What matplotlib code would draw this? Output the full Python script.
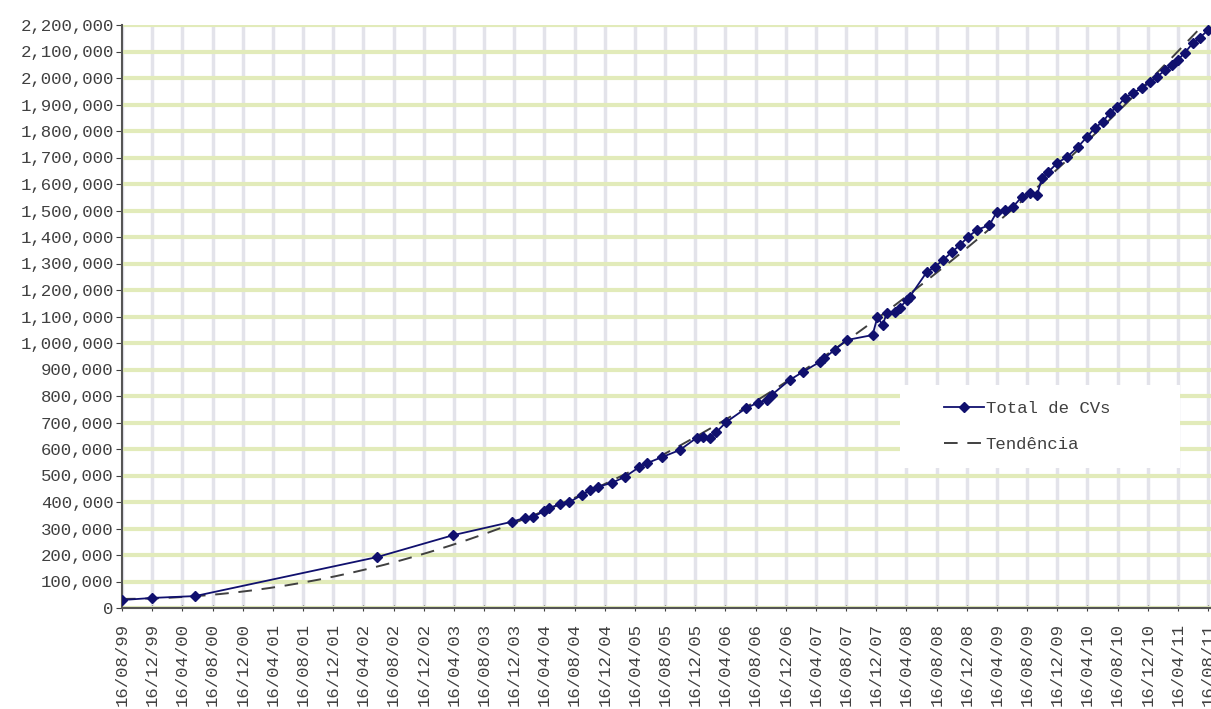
import numpy as np
import matplotlib.pyplot as plt
import matplotlib.dates as mdates
import matplotlib.ticker as mticker
from matplotlib.patches import Rectangle

# Total de CVs ao longo do tempo
dates = [
    "1999-08-16", "1999-12-16", "2000-06-06", "2002-06-10", "2003-04-14",
    "2003-12-05", "2004-01-27", "2004-02-28", "2004-04-16", "2004-05-06",
    "2004-06-16", "2004-07-26", "2004-09-13", "2004-10-15", "2004-11-17",
    "2005-01-12", "2005-03-05", "2005-05-04", "2005-06-05", "2005-08-05",
    "2005-10-14", "2005-12-21", "2006-01-15", "2006-02-12", "2006-03-11",
    "2006-04-20", "2006-07-10", "2006-08-24", "2006-09-30", "2006-10-20",
    "2006-12-31", "2007-02-23", "2007-05-01", "2007-05-21", "2007-07-01",
    "2007-08-18", "2007-12-01", "2007-12-21", "2008-01-11", "2008-01-27",
    "2008-02-29", "2008-03-19", "2008-04-17", "2008-04-29", "2008-07-07",
    "2008-08-08", "2008-09-10", "2008-10-16", "2008-11-18", "2008-12-20",
    "2009-01-26", "2009-03-17", "2009-04-15", "2009-05-17", "2009-06-19",
    "2009-07-25", "2009-08-27", "2009-09-25", "2009-10-15", "2009-11-09",
    "2009-12-15", "2010-01-24", "2010-03-09", "2010-04-14", "2010-05-15",
    "2010-06-17", "2010-07-15", "2010-08-13", "2010-09-15", "2010-10-17",
    "2010-11-23", "2010-12-25", "2011-01-22", "2011-02-24", "2011-03-22",
    "2011-04-16", "2011-05-14", "2011-06-16", "2011-07-13", "2011-08-16",
]
total_cvs = [
    30000, 38000, 45000, 192000, 275000,
    325000, 340000, 343000, 366000, 377000,
    392000, 400000, 426000, 445000, 457000,
    472000, 494000, 532000, 547000, 570000,
    596000, 642000, 645000, 642000, 664000,
    702000, 755000, 774000, 785000, 804000,
    860000, 891000, 928000, 943000, 974000,
    1011000, 1030000, 1098000, 1067000, 1113000,
    1117000, 1132000, 1162000, 1174000, 1268000,
    1287000, 1313000, 1343000, 1370000, 1400000,
    1427000, 1445000, 1494000, 1502000, 1513000,
    1551000, 1566000, 1559000, 1623000, 1645000,
    1679000, 1702000, 1740000, 1777000, 1811000,
    1834000, 1868000, 1891000, 1925000, 1944000,
    1962000, 1985000, 2004000, 2030000, 2049000,
    2068000, 2095000, 2132000, 2151000, 2181000,
]

plt.rcParams['font.family'] = ['Liberation Mono', 'DejaVu Sans Mono']

x = mdates.datestr2num(dates)
y = np.array(total_cvs)

fig = plt.figure(figsize=(12.11, 7.09), dpi=100)
ax = fig.add_axes([122 / 1211, 1 - 608 / 709, 1 - 122 / 1211, 583 / 709])

# grid like the Excel chart: green horizontal, grey vertical
ax.set_axisbelow(True)
ax.yaxis.grid(True, color='#e2ebba', linewidth=3)
ax.xaxis.grid(True, color='#e3e3ea', linewidth=2.5)

ax.plot(x, y, color='#10106e', linewidth=1.3, marker='D', markersize=5.5,
        label='Total de CVs', zorder=3)

# polynomial trendline (order 2)
coef = np.polyfit(x - x[0], y, 2)
xt = np.linspace(x[0], x[-1] + 12, 200)
ax.plot(xt, np.polyval(coef, xt - x[0]), color='#404040', linewidth=1.4,
        linestyle=(0, (7, 5)), label='Tendência', zorder=2)

ax.set_xlim(x[0], x[-1] + 12)
ax.set_ylim(0, 2200000)

ax.xaxis.set_major_locator(mdates.MonthLocator(bymonth=(4, 8, 12), bymonthday=16))
ax.xaxis.set_major_formatter(mdates.DateFormatter('%d/%m/%y'))
ax.yaxis.set_major_locator(mticker.MultipleLocator(100000))
ax.yaxis.set_major_formatter(mticker.FuncFormatter(lambda v, p: f'{int(v):,}'))

ax.tick_params(axis='x', labelrotation=90, labelsize=12.5, colors='#404040',
               length=5, direction='inout', pad=8)
ax.tick_params(axis='y', labelsize=12.5, colors='#404040', length=4, pad=2)

for s in ['top', 'right']:
    ax.spines[s].set_visible(False)
for s in ['left', 'bottom']:
    ax.spines[s].set_color('#555555')
    ax.spines[s].set_linewidth(1.5)

# white legend area covering the grid
ax.add_patch(Rectangle((0.714, 0.240), 0.2575, 0.1425, transform=ax.transAxes,
                       facecolor='white', edgecolor='none', zorder=2.5))

leg = ax.legend(loc='center', bbox_to_anchor=(0.831, 0.311), frameon=False,
                fontsize=12.5, handlelength=2.3, handletextpad=0.1,
                labelspacing=1.2, borderpad=0.5, borderaxespad=0)
leg.set_zorder(4)
for t in leg.get_texts():
    t.set_color('#404040')

plt.savefig('out.png', dpi=100)
